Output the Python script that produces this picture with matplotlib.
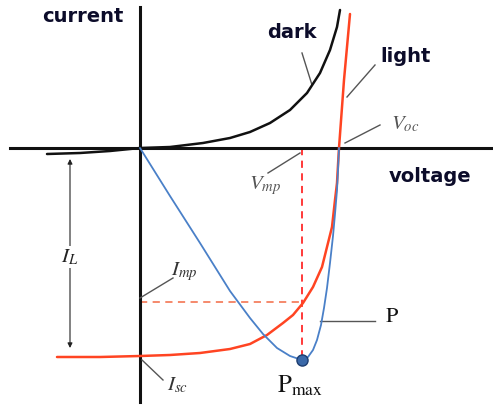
import matplotlib.pyplot as plt
import numpy as np

# values (voltage to the right, current up, origin at 0,0)
dark_v = [-93, -60, -30, 0, 30, 63, 90, 110, 130, 150, 167, 180, 190, 197, 200]
dark_i = [-6, -5, -3, 0, 1, 5, 10, 16, 25, 38, 55, 75, 98, 121, 138]

light_v = [-83, -40, 0, 30, 60, 90, 110, 127, 143, 153, 163, 173, 182, 188, 192,
           195, 197, 198, 199, 204, 210]
light_i = [-209, -209, -208, -207, -205, -201, -196, -187, -175, -167, -155, -139,
           -119, -95, -79, -52, -35, -17, 0, 68, 134]

power_v = [0, 30, 60, 90, 110, 123, 137, 150, 162, 168, 173, 177, 181, 184, 187,
           190, 193, 195, 197, 198, 199]
power_i = [0, -48, -95, -143, -170, -186, -200, -208, -212, -209, -202, -192, -177,
           -160, -140, -115, -88, -66, -42, -22, 0]

v_mp, i_mp = 162, -154
p_max = -212

red = '#ff4422'
blue = '#4a80c8'
ink = '#0c0c2a'
grey = '#555555'

plt.rcParams['mathtext.fontset'] = 'stix'

fig = plt.figure(figsize=(4.93, 4.08), dpi=100)
ax = fig.add_axes([0, 0, 1, 1])
ax.set_xlim(-140, 353)
ax.set_ylim(-260, 148)
ax.axis('off')

# axes of the diagram
ax.plot([-130, 353], [0, 0], color='#111111', lw=2.2, zorder=2)
ax.plot([0, 0], [-254, 141], color='#111111', lw=2.2, zorder=2)

# max power point guides
ax.plot([v_mp, v_mp], [0, p_max], color='#ff2a2a', lw=1.3, ls=(0, (4, 3)), zorder=1)
ax.plot([0, v_mp], [i_mp, i_mp], color='#f58060', lw=1.3, ls=(0, (4, 3)), zorder=1)

curve = dict(solid_joinstyle='round', solid_capstyle='round')
ax.plot(dark_v, dark_i, color='#111111', lw=1.8, zorder=3, **curve)
ax.plot(light_v, light_i, color=red, lw=1.8, zorder=3, **curve)
ax.plot(power_v, power_i, color=blue, lw=1.3, zorder=4, **curve)
ax.plot([v_mp], [p_max], 'o', ms=8, color='#3a68a8', mec='#1d3d70', mew=1, zorder=5)

# I_L arrow
ax.annotate('', xy=(-70, -200), xytext=(-70, -11),
            arrowprops=dict(arrowstyle='<|-|>', color='#222222', lw=0.8,
                            mutation_scale=7, shrinkA=0, shrinkB=0))
ax.text(-70, -109, r'$I_L$', fontsize=15, ha='center', va='center', color='#222222',
        bbox=dict(fc='white', ec='none', pad=1))

# leader lines
leaders = [
    ((162, 95), (172, 63)),
    ((235, 83), (207, 51)),
    ((240, 23), (205, 5)),
    ((160, -5), (128, -25)),
    ((33, -130), (0, -150)),
    ((2, -212), (23, -232)),
    ((180, -173), (235, -173)),
]
for (x0, y0), (x1, y1) in leaders:
    ax.plot([x0, x1], [y0, y1], color=grey, lw=1.0, zorder=2)

bold = dict(fontsize=14, fontweight='bold', color=ink, ha='center', va='center',
            family='DejaVu Sans')
ax.text(-57, 131, 'current', **bold)
ax.text(152, 115, 'dark', **bold)
ax.text(266, 91, 'light', **bold)
ax.text(290, -29, 'voltage', **bold)

ax.text(265, 24, r'$V_{oc}$', fontsize=15, color=grey, ha='center', va='center')
ax.text(125, -38, r'$V_{mp}$', fontsize=15, color=grey, ha='center', va='center')
ax.text(44, -124, r'$I_{mp}$', fontsize=15, color='#333333', ha='center', va='center')
ax.text(38, -237, r'$I_{sc}$', fontsize=15, color='#333333', ha='center', va='center')
ax.text(252, -168, r'$\mathrm{P}$', fontsize=16, color='#111111', ha='center', va='center')
ax.text(160, -238, r'$\mathrm{P}_{\mathrm{max}}$', fontsize=18, color='#111111',
        ha='center', va='center')

fig.savefig('out.png', dpi=100)
